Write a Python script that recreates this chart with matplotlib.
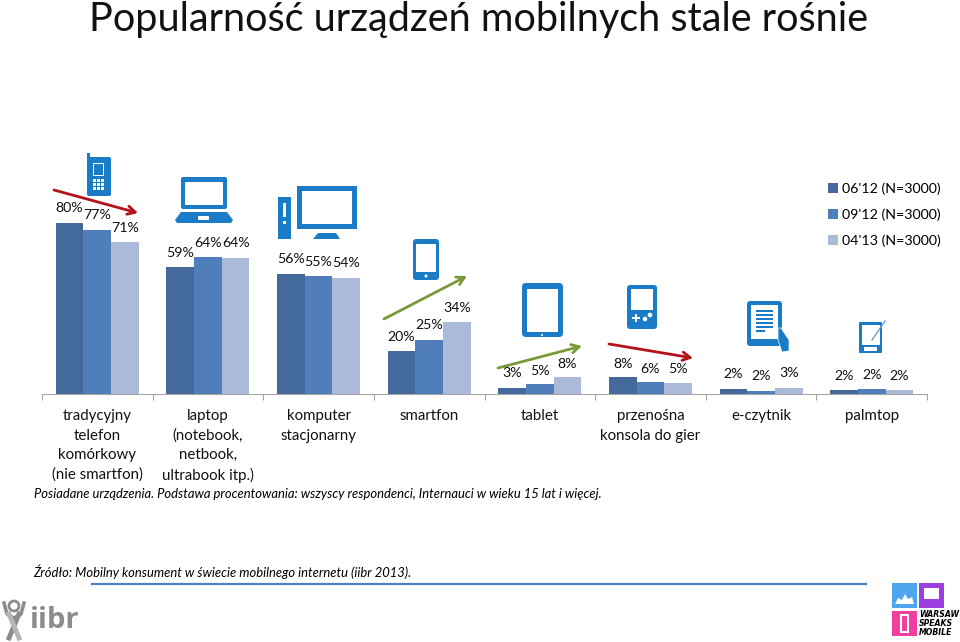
# Libraries requises
from matplotlib import pyplot as plt
from matplotlib.patches import Circle, FancyBboxPatch, Polygon, Rectangle
import numpy as np
BLEU: str = "#1a7cc7"
def boite(ax, x0: float, y0: float, x1: float, y1: float, couleur: str = BLEU, rayon: float = 0):
    """
    Rectangle à coins arrondis, en pixels de l'image de référence
    """
    if rayon > 0:
        ax.add_patch(FancyBboxPatch((x0 + rayon, y0 + rayon), x1 - x0 - 2 * rayon, y1 - y0 - 2 * rayon,
                                    boxstyle=f"round,pad={rayon},rounding_size={rayon}", fc=couleur, ec="none"))
    else:
        ax.add_patch(Rectangle((x0, y0), x1 - x0, y1 - y0, fc=couleur, ec="none"))
def dessin_des_icones(ax):
    """
    Icônes des appareils au‐dessus de chaque groupe de barres
    """
    # Téléphone à touches
    boite(ax, 87, 153, 90, 160)
    boite(ax, 87, 157, 111, 196, rayon=2)
    boite(ax, 93, 163, 104, 176, "#ffffff")
    boite(ax, 94, 164, 103, 175, "#1a7cc7")
    for i in range(3):
        for j in range(3):
            boite(ax, 93 + 4 * j, 179 + 4 * i, 96 + 4 * j, 182 + 4 * i, "#ffffff")
    # Ordinateur portable
    boite(ax, 181, 177, 227, 209, rayon=2)
    boite(ax, 185, 182, 223, 205, "#ffffff")
    ax.add_patch(Polygon([(181, 212), (227, 212), (233, 220), (231, 223), (177, 223), (175, 220)], fc=BLEU, ec="none"))
    boite(ax, 198, 216, 209, 220, "#ffffff", rayon=1)
    # Ordinateur de bureau
    boite(ax, 297, 186, 357, 229)
    boite(ax, 302, 191, 352, 224, "#ffffff")
    ax.add_patch(Polygon([(318, 233), (336, 233), (340, 239), (313, 239)], fc=BLEU, ec="none"))
    boite(ax, 278, 197, 291, 239)
    boite(ax, 283, 203, 286, 217, "#ffffff")
    boite(ax, 283, 221, 286, 224, "#ffffff")
    # Smartfon
    boite(ax, 413, 239, 439, 280, rayon=3)
    boite(ax, 416, 244, 436, 272, "#ffffff")
    ax.add_patch(Circle((426, 276), 1.5, fc="#ffffff", ec="none"))
    # Tablette
    boite(ax, 522, 283, 563, 337, rayon=4)
    boite(ax, 527, 289, 558, 332, "#ffffff")
    ax.add_patch(Circle((542, 335), 1, fc="#ffffff", ec="none"))
    # Console portable
    boite(ax, 627, 285, 657, 329, rayon=3)
    boite(ax, 631, 289, 653, 310, "#ffffff")
    boite(ax, 632, 317, 640, 319, "#ffffff")
    boite(ax, 635, 314, 637, 322, "#ffffff")
    ax.add_patch(Circle((645, 319), 2.3, fc="#ffffff", ec="none"))
    ax.add_patch(Circle((650, 315), 2.3, fc="#ffffff", ec="none"))
    # Liseuse tenue à la main
    boite(ax, 747, 301, 782, 346, rayon=3)
    boite(ax, 751, 305, 778, 339, "#ffffff")
    for i in range(6):
        boite(ax, 756, 310 + 4 * i, 773 if i < 5 else 765, 312 + 4 * i)
    ax.add_patch(Polygon([(778, 328), (781, 328), (789, 340), (789, 351), (782, 352), (778, 340)], fc=BLEU, ec="#ffffff", lw=0.5))
    # Palmtop et son stylet
    boite(ax, 859, 322, 882, 353, rayon=1)
    boite(ax, 862, 325, 880, 345, "#ffffff")
    boite(ax, 864, 347, 877, 351, "#ffffff")
    ax.plot([872, 885], [340, 321], color="#6f9fc8", lw=1)
def dessin_des_logos(ax):
    """
    Logos iibr et Warsaw Speaks Mobile en bas de la diapositive
    """
    gris: str = "#8c8c8c"
    ax.add_patch(Circle((14, 606), 5, fc="none", ec=gris, lw=2))
    ax.plot([4, 7, 14, 21, 24], [603, 614, 618, 614, 603], color=gris, lw=2.5)
    ax.plot([9, 19], [638, 614], color=gris, lw=3.5)
    ax.plot([19, 9], [638, 614], color="#b5b5b5", lw=3.5)
    ax.text(30, 621, "iibr", fontsize=21, fontweight="bold", color=gris, va="center", family="Open Sans")
    boite(ax, 892, 583, 917, 608, "#4da6ee")
    boite(ax, 919, 583, 944, 608, "#9b3fe0")
    boite(ax, 892, 611, 917, 636, "#f0409f")
    boite(ax, 924, 588, 939, 599, "#ffffff")
    boite(ax, 900, 614, 909, 633, "#ffffff")
    boite(ax, 902, 616, 907, 631, "#f0409f")
    ax.add_patch(Polygon([(895, 604), (898, 598), (902, 600), (905, 594), (908, 599), (912, 597), (914, 604)], fc="#ffffff", ec="none"))
    for k, mot in enumerate(["WARSAW", "SPEAKS", "MOBILE"]):
        ax.text(919, 614.5 + 9 * k, mot, fontsize=5.6, fontweight="black", fontstyle="italic", va="center", family="DejaVu Sans")
def dessin_du_fond():
    """
    Axes en pixels: titre, notes, flèches de tendance, icônes et logos
    """
    ax = plt.axes([0, 0, 1, 1])
    ax.set_xlim(0, 960)
    ax.set_ylim(642, 0)
    ax.axis("off")
    ax.text(479, 19, "Popularność urządzeń mobilnych stale rośnie", fontsize=28.5, ha="center", va="center", color="#111111")
    ax.text(34, 494, "Posiadane urządzenia. Podstawa procentowania: wszyscy respondenci, Internauci w wieku 15 lat i więcej.",
            fontsize=9.4, fontstyle="italic", va="center")
    ax.text(33, 572, "Źródło: Mobilny konsument w świecie mobilnego internetu (iibr 2013).", fontsize=9.35, fontstyle="italic", va="center")
    ax.plot([92, 866], [584, 584], color="#4f81bd", lw=1.6)
    # Flèches de tendance: rouge = baisse, verte = hausse
    fleches: list = [
        ((54, 190), (138, 213), "#b5121b"),
        ((384, 319), (467, 276), "#7a9a3a"),
        ((498, 368), (582, 346), "#7a9a3a"),
        ((609, 344), (693, 358), "#b5121b"),
    ]
    for depart, arrivee, couleur in fleches:
        ax.annotate("", xy=arrivee, xytext=depart, zorder=5,
                    arrowprops=dict(arrowstyle="->,head_length=0.55,head_width=0.3", color=couleur, lw=2, shrinkA=0, shrinkB=0))
    dessin_des_icones(ax)
    dessin_des_logos(ax)
def calcul_des_barres():
    """
    Barres groupées par appareil pour les trois vagues de l'enquête
    """
    categories: list = [
        "tradycyjny\ntelefon\nkomórkowy\n(nie smartfon)", "laptop\n(notebook,\nnetbook,\nultrabook itp.)",
        "komputer\nstacjonarny", "smartfon", "tablet", "przenośna\nkonsola do gier", "e-czytnik", "palmtop",
    ]
    series: dict = {
        "06'12 (N=3000)": ([80, 59, 56, 20, 3, 8, 2, 2], "#44699b"),
        "09'12 (N=3000)": ([77, 64, 55, 25, 5, 6, 2, 2], "#4f7eba"),
        "04'13 (N=3000)": ([71, 64, 54, 34, 8, 5, 3, 2], "#abbad8"),
    }
    # Hauteurs (les étiquettes restent les valeurs arrondies)
    hauteurs: list = [
        [80, 59.3, 56, 20, 2.7, 7.9, 2.2, 1.9],
        [76.6, 64, 55, 25.2, 4.5, 5.7, 1.6, 2.2],
        [71, 63.5, 54, 33.6, 8, 5, 2.9, 1.9],
    ]
    # Décalage vertical des étiquettes (pixels) au‐dessus de chaque barre
    decalages: list = [
        [15, 14, 15, 14, 15, 13, 15, 14],
        [15, 14, 14, 15, 13, 13, 15, 14],
        [14, 15, 15, 14, 13, 14, 15, 14],
    ]
    ax = plt.axes([42 / 960, 248 / 642, 885 / 960, 214 / 642])
    ax.patch.set_alpha(0)
    x: np.ndarray = np.arange(len(categories)) + 0.5
    for k, (nom, (valeurs, couleur)) in enumerate(series.items()):
        position: np.ndarray = x + (k - 1) * 0.25
        ax.bar(position, hauteurs[k], width=0.25, color=couleur, label=nom)
        for i, valeur in enumerate(valeurs):
            ax.annotate(f"{valeur}%", (position[i], hauteurs[k][i]), xytext=(0, decalages[k][i]), textcoords="offset pixels",
                        ha="center", va="center", fontsize=10.2, color="#111111", annotation_clip=False)
    ax.set_xlim(0, 8)
    ax.set_ylim(0, 100)
    ax.set_yticks([])
    ax.set_xticks(x, categories)
    ax.set_xticks(np.arange(9), minor=True)
    ax.tick_params(axis="x", which="major", length=0, pad=11, labelsize=10.8, labelcolor="#111111")
    ax.tick_params(axis="x", which="minor", length=4, width=0.8, color="#a6a6a6")
    for etiquette in ax.get_xticklabels():
        etiquette.set_linespacing(1.48)
    for cote in ["top", "left", "right"]:
        ax.spines[cote].set_visible(False)
    ax.spines["bottom"].set_color("#a6a6a6")
    plt.legend(loc="upper left", bbox_to_anchor=(828 / 960, 460 / 642), bbox_transform=plt.gcf().transFigure, frameon=False,
               fontsize=10.3, handlelength=0.7, handleheight=0.7, handletextpad=0.3, labelspacing=0.95, borderpad=0, borderaxespad=0)
def code_principal():
    """
    Fonction principale appelant les fonctions secondaires
    """
    # Propriétés par défaut de matplotlib
    plt.rcParams.update(
        {
            "font.family": ["Lato", "DejaVu Sans"],
            "savefig.dpi": 100,
        }
    )
    plt.figure(figsize=(9.6, 6.42))
    dessin_du_fond()
    calcul_des_barres()
    plt.savefig("out.png")


if __name__ == "__main__":
    code_principal()
